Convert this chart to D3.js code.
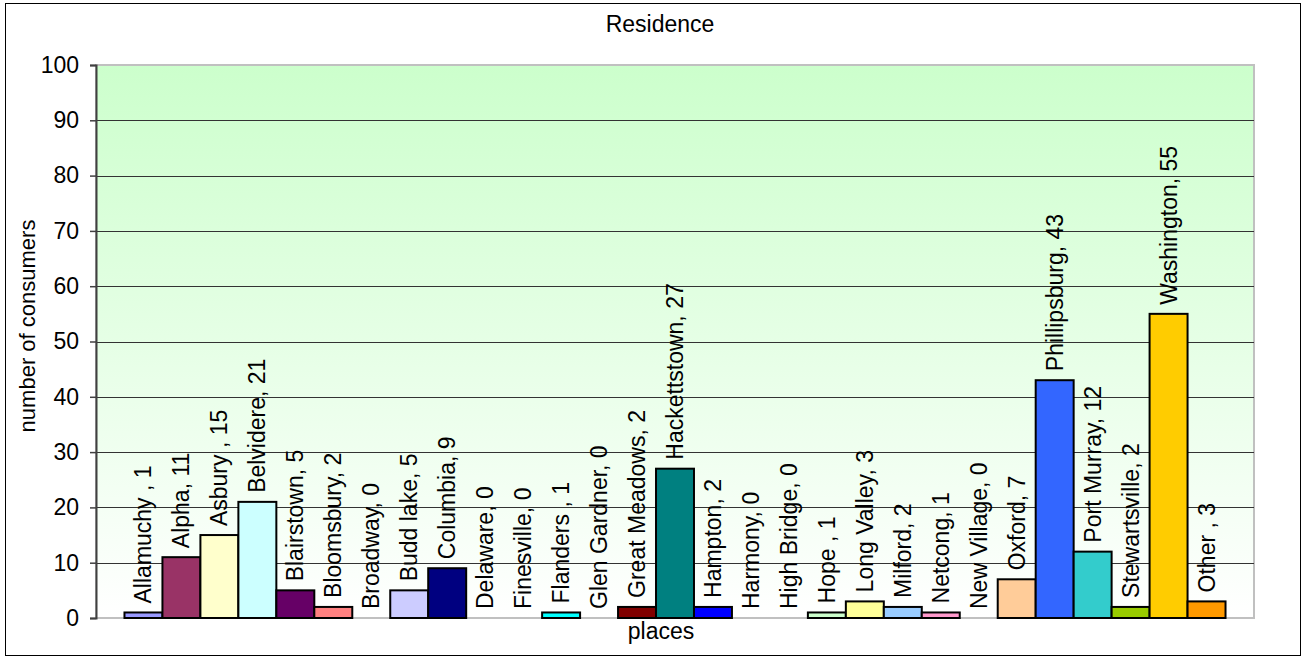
<!DOCTYPE html>
<html>
<head>
<meta charset="utf-8">
<script src="https://cdn.jsdelivr.net/npm/d3@7/dist/d3.min.js"></script>
<style>
  html, body { margin: 0; padding: 0; background: #ffffff; }
  svg { display: block; }
  text { font-family: "Liberation Sans", Arial, Helvetica, sans-serif; fill: #000; }
</style>
</head>
<body>
<svg id="chart" width="1302" height="658"></svg>
<script>
// Residence of consumers by place
const places = [
  "Allamuchy ", "Alpha", "Asbury ", "Belvidere", "Blairstown", "Bloomsbury",
  "Broadway", "Budd lake", "Columbia", "Delaware", "Finesville", "Flanders ",
  "Glen Gardner", "Great Meadows", "Hackettstown", "Hampton", "Harmony",
  "High Bridge", "Hope ", "Long Valley", "Milford", "Netcong", "New Village",
  "Oxford", "Phillipsburg", "Port Murray", "Stewartsville", "Washington", "Other "
];
const consumers = [
  1, 11, 15, 21, 5, 2,
  0, 5, 9, 0, 0, 1,
  0, 2, 27, 2, 0,
  0, 1, 3, 2, 1, 0,
  7, 43, 12, 2, 55, 3
];
const barColors = [
  "#9999FF", "#993366", "#FFFFCC", "#CCFFFF", "#660066", "#FF8080",
  "#0066CC", "#CCCCFF", "#000080", "#FF00FF", "#FFFF00", "#00FFFF",
  "#800080", "#800000", "#008080", "#0000FF", "#00CCFF",
  "#CCFFFF", "#CCFFCC", "#FFFF99", "#99CCFF", "#FF99CC", "#CC99FF",
  "#FFCC99", "#3366FF", "#33CCCC", "#99CC00", "#FFCC00", "#FF9900"
];
const yTicks = [0, 10, 20, 30, 40, 50, 60, 70, 80, 90, 100];

const svg = d3.select("#chart");
const plot = { left: 96, right: 1254, top: 65, bottom: 618 };

const rows = places.map((p, i) => ({ place: p, value: consumers[i], color: barColors[i] }));

const x = d3.scaleBand()
  .domain(places)
  .range([plot.left, plot.right])
  .paddingInner(0)
  .paddingOuter(0.75);

const y = d3.scaleLinear()
  .domain([0, 100])
  .range([plot.bottom, plot.top]);

// outer frame
svg.append("rect")
  .attr("x", 5.5).attr("y", 3.5)
  .attr("width", 1295).attr("height", 652)
  .attr("fill", "#fff").attr("stroke", "#000").attr("stroke-width", 1);

// plot background gradient
const defs = svg.append("defs");
const grad = defs.append("linearGradient")
  .attr("id", "plotBg").attr("x1", 0).attr("y1", 0).attr("x2", 0).attr("y2", 1);
grad.append("stop").attr("offset", "0%").attr("stop-color", "#CCFFCC");
grad.append("stop").attr("offset", "100%").attr("stop-color", "#FFFFFF");

svg.append("rect")
  .attr("x", plot.left).attr("y", plot.top)
  .attr("width", plot.right - plot.left).attr("height", plot.bottom - plot.top)
  .attr("fill", "url(#plotBg)")
  .attr("stroke", "#C0C0C0").attr("stroke-width", 2);

// gridlines
svg.append("g")
  .selectAll("line")
  .data(yTicks.filter(t => t > 0 && t < 100))
  .join("line")
  .attr("x1", plot.left).attr("x2", plot.right)
  .attr("y1", d => Math.round(y(d)) + 0.5).attr("y2", d => Math.round(y(d)) + 0.5)
  .attr("stroke", "#333").attr("stroke-width", 1);

// bottom axis line
svg.append("line")
  .attr("x1", plot.left).attr("x2", plot.right)
  .attr("y1", y(0)).attr("y2", y(0))
  .attr("stroke", "#C0C0C0").attr("stroke-width", 2);

// y axis
const yAxis = svg.append("g")
  .attr("transform", `translate(${plot.left},0)`)
  .call(d3.axisLeft(y).tickValues(yTicks).tickSize(6).tickPadding(11).tickFormat(d3.format("d")));
yAxis.select(".domain").attr("stroke", "#404040").attr("stroke-width", 2);
yAxis.selectAll(".tick line").attr("stroke", "#404040").attr("stroke-width", 1.5);
yAxis.selectAll(".tick text")
  .attr("font-size", 23)
  .attr("font-family", "\"Liberation Sans\", Arial, sans-serif")
  .attr("fill", "#000");

// bars
svg.append("g")
  .selectAll("rect")
  .data(rows.filter(d => d.value > 0))
  .join("rect")
  .attr("x", d => x(d.place))
  .attr("y", d => y(d.value))
  .attr("width", x.bandwidth())
  .attr("height", d => y(0) - y(d.value))
  .attr("fill", d => d.color)
  .attr("stroke", "#000")
  .attr("stroke-width", 2);

// value labels above each bar
svg.append("g")
  .selectAll("text")
  .data(rows)
  .join("text")
  .attr("transform", d => {
    const cx = x(d.place) + x.bandwidth() / 2 + 8;
    const cy = y(d.value) - 9;
    return `translate(${cx},${cy}) rotate(-90)`;
  })
  .attr("text-anchor", "start")
  .attr("font-size", 23)
  .text(d => `${d.place}, ${d.value}`);

// title and axis titles
svg.append("text")
  .attr("x", 660).attr("y", 32)
  .attr("text-anchor", "middle")
  .attr("font-size", 23)
  .text("Residence");

svg.append("text")
  .attr("transform", "translate(35,326) rotate(-90)")
  .attr("text-anchor", "middle")
  .attr("font-size", 22)
  .text("number of consumers");

svg.append("text")
  .attr("x", 661).attr("y", 639)
  .attr("text-anchor", "middle")
  .attr("font-size", 23)
  .text("places");
</script>
</body>
</html>
